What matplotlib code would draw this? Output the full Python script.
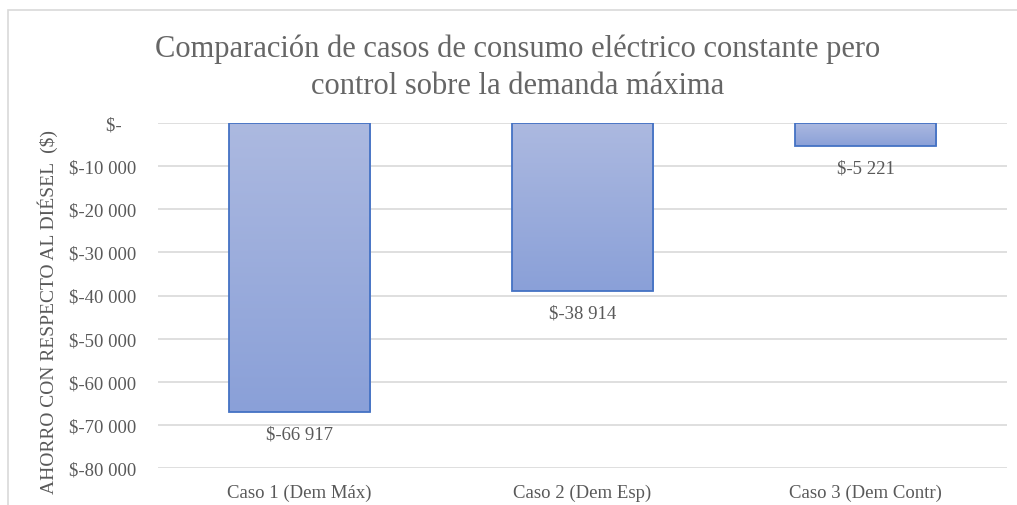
import numpy as np
import matplotlib
matplotlib.use('Agg')
import matplotlib.pyplot as plt
from matplotlib.patches import Rectangle

casos = ['Caso 1 (Dem Máx)', 'Caso 2 (Dem Esp)', 'Caso 3 (Dem Contr)']
ahorro = [-66917, -38914, -5221]
yticks = [0, -10000, -20000, -30000, -40000, -50000, -60000, -70000, -80000]


def fmt(v):
    if v == 0:
        return '$-   '
    return '$-' + f'{abs(v):,}'.replace(',', ' ')


plt.rcParams['font.family'] = ['Liberation Serif', 'DejaVu Serif']
gris = '#595959'
fs = 13.5

fig = plt.figure(figsize=(10.17, 5.06), dpi=100)
fig.patches.append(Rectangle((8 / 1017, -0.1), 1.2, 1 - 11 / 506 + 0.1,
                             transform=fig.transFigure, fill=False,
                             edgecolor='#d9d9d9', linewidth=1.2))
ax = fig.add_axes([158 / 1017, 1 - 469 / 506, (1007 - 158) / 1017, (469 - 124) / 506])

x = np.arange(len(casos))
ancho = 0.5

# degradado claro arriba, mas oscuro abajo
grad = np.linspace(0, 1, 256).reshape(-1, 1)
cmap = matplotlib.colors.LinearSegmentedColormap.from_list('azul', ['#acb9e0', '#8aa0d8'])
barras = ax.bar(x, ahorro, width=ancho, color='none', edgecolor='#4472c4', linewidth=1.3, zorder=3)
for b in barras:
    x0, y0 = b.get_x(), b.get_y()
    w, h = b.get_width(), b.get_height()
    im = ax.imshow(grad, cmap=cmap, aspect='auto', extent=[x0, x0 + w, y0 + h, y0],
                   origin='upper', zorder=2)
    im.set_clip_path(b)
ax.set_aspect('auto')
ax.set_xlim(-0.5, len(casos) - 0.5)
ax.set_ylim(-80000, 0)

for xi, v in zip(x, ahorro):
    ax.annotate(fmt(v), (xi, v), xytext=(0, -22), textcoords='offset pixels',
                ha='center', va='center', fontsize=fs, color=gris, zorder=4)

ax.set_yticks(yticks)
ax.set_yticklabels([fmt(v) for v in yticks])
ax.set_xticks(x)
ax.set_xticklabels(casos)
ax.tick_params(length=0, labelsize=fs, colors=gris, pad=16)
ax.tick_params(axis='x', pad=11)
ax.grid(axis='y', color='#d9d9d9', linewidth=1.2, zorder=0)
for s in ax.spines.values():
    s.set_visible(False)

ax.set_ylabel('AHORRO CON RESPECTO AL DIÉSEL  ($)', fontsize=14, color=gris)
ax.yaxis.set_label_coords(-0.118, 0.455)

fig.text(0.509, 0.866, 'Comparación de casos de consumo eléctrico constante pero\ncontrol sobre la demanda máxima',
         ha='center', va='center', fontsize=22, color='#666666', linespacing=1.38)

fig.savefig('out.png', dpi=100)
